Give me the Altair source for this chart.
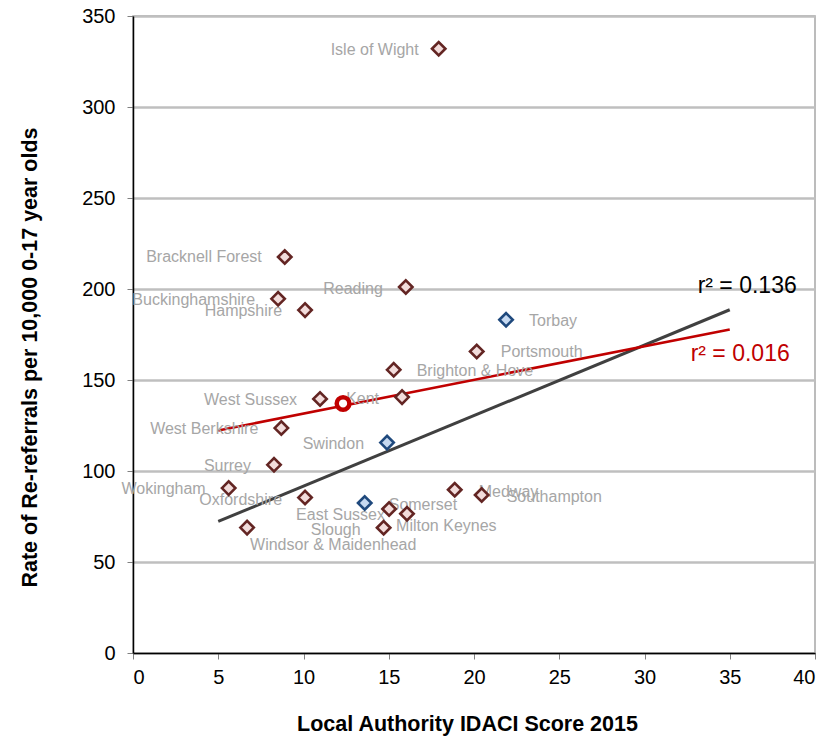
import altair as alt
import pandas as pd

# ---- data ----
names = ["Isle of Wight", "Bracknell Forest", "Buckinghamshire", "Hampshire", "Reading",
         "Torbay", "Portsmouth", "Brighton & Hove", "West Sussex", "Kent",
         "West Berkshire", "Swindon", "Surrey", "Wokingham", "Oxfordshire",
         "Somerset", "Milton Keynes", "East Sussex", "Slough", "Windsor & Maidenhead",
         "Medway", "Southampton"]
idaci = [17.93, 8.90, 8.51, 10.09, 16.00,
         21.88, 20.16, 15.29, 10.97, 15.78,
         8.70, 14.90, 8.27, 5.61, 10.09,
         13.59, 15.02, 16.07, 14.70, 6.69,
         18.87, 20.45]
rate = [332.0, 217.6, 194.6, 188.4, 201.1,
        183.1, 165.7, 155.6, 139.6, 140.6,
        123.6, 115.6, 103.4, 90.6, 85.4,
        82.4, 79.1, 76.5, 68.8, 68.9,
        89.7, 86.8]
region = ["South East"] * 22
for i, n in enumerate(names):
    if n in ("Torbay", "Swindon", "Somerset"):
        region[i] = "South West"

# highlighted average point
avg_x = [12.32]
avg_y = [137.1]

# trend lines
trend_x = [5, 35]
fit_all = [72.3, 188.6]
fit_se = [122.3, 177.8]
r2_labels = ["r² = 0.136", "r² = 0.016"]

x_ticks = list(range(0, 41, 5))
y_ticks = list(range(0, 351, 50))

# label placement (styling only): text alignment and pixel offsets
label_align = ["right", "right", "right", "right", "right",
               "left", "left", "left", "right", "right",
               "right", "right", "right", "right", "right",
               "left", "left", "right", "right", "left",
               "left", "left"]
label_dx = [-20, -23, -23, -23, -23,
            23, 24, 23, -23, -23,
            -23, -23, -23, -23, -23,
            24, 7, -22, -23, 3,
            24, 25]
label_dy = [1, 0, 1, 1, 2,
            1, 1, 1, 1, 2,
            1, 1, 1, 1, 2,
            2, 17, 1, 2, 17,
            2, 2]

FONT = "Liberation Sans"

df = pd.DataFrame({"name": names, "idaci": idaci, "rate": rate, "region": region})
avg_df = pd.DataFrame({"idaci": avg_x, "rate": avg_y})
trend_df = pd.DataFrame({
    "idaci": trend_x * 2,
    "rate": fit_all + fit_se,
    "fit": ["all"] * 2 + ["se"] * 2,
})

xs = alt.Scale(domain=[0, 40], nice=False)
ys = alt.Scale(domain=[0, 350], nice=False)

X = alt.X("idaci:Q", scale=xs,
          axis=alt.Axis(values=x_ticks, title="Local Authority IDACI Score 2015",
                        grid=False, titleX=334, titleY=77, titleAlign="center",
                        titleBaseline="alphabetic", titleAnchor=None))
Y = alt.Y("rate:Q", scale=ys,
          axis=alt.Axis(values=y_ticks, title="Rate of Re-referrals per 10,000 0-17 year olds",
                        grid=True, titleX=-103, titleY=341, titleAngle=270,
                        titleAlign="center", titleBaseline="middle"))

base = alt.Chart(df)

# labels
label_layers = []
for i, n in enumerate(names):
    label_layers.append(
        alt.Chart(df).transform_filter(alt.datum.name == n)
        .mark_text(align=label_align[i], baseline="middle", dx=label_dx[i], dy=label_dy[i],
                   font=FONT, fontSize=16, color="#A6A6A6")
        .encode(x=alt.X("idaci:Q", scale=xs), y=alt.Y("rate:Q", scale=ys), text="name:N")
    )

lines = alt.Chart(trend_df).mark_line(strokeCap="butt").encode(
    x=X, y=Y,
    detail="fit:N",
    color=alt.Color("fit:N", scale=alt.Scale(domain=["all", "se"], range=["#404040", "#C00000"]),
                    legend=None),
    strokeWidth=alt.StrokeWidth("fit:N", scale=alt.Scale(domain=["all", "se"], range=[3, 2.6]),
                                legend=None),
)

points = base.mark_point(shape="diamond", filled=False, size=180, strokeWidth=2.6, opacity=1).encode(
    x=alt.X("idaci:Q", scale=xs), y=alt.Y("rate:Q", scale=ys),
    fill=alt.Fill("region:N", scale=alt.Scale(domain=["South East", "South West"],
                                              range=["#F2DCDB", "#C6D9F1"]), legend=None),
    stroke=alt.Stroke("region:N", scale=alt.Scale(domain=["South East", "South West"],
                                                  range=["#632523", "#1F497D"]), legend=None),
)

avg = alt.Chart(avg_df).mark_point(shape="circle", size=160, fill="white", stroke="#C00000",
                                   strokeWidth=4.5, opacity=1, filled=False).encode(
    x=alt.X("idaci:Q", scale=xs), y=alt.Y("rate:Q", scale=ys))

r2_df = pd.DataFrame({"idaci": [trend_x[1], trend_x[1]], "rate": [fit_all[1], fit_se[1]],
                      "label": r2_labels})
r2_black = alt.Chart(r2_df).transform_filter(alt.datum.label == r2_labels[0]).mark_text(
    align="right", baseline="middle", dx=67, dy=-24, font=FONT, fontSize=23, color="#000000"
).encode(x=alt.X("idaci:Q", scale=xs), y=alt.Y("rate:Q", scale=ys), text="label:N")
r2_red = alt.Chart(r2_df).transform_filter(alt.datum.label == r2_labels[1]).mark_text(
    align="right", baseline="middle", dx=60, dy=25, font=FONT, fontSize=23, color="#C00000"
).encode(x=alt.X("idaci:Q", scale=xs), y=alt.Y("rate:Q", scale=ys), text="label:N")

chart = alt.layer(lines, *label_layers, points, avg, r2_black, r2_red).properties(
    width=682, height=637,
    autosize=alt.AutoSizeParams(type="none"),
    padding={"left": 125, "top": 8, "right": 14, "bottom": 84},
).configure_view(
    stroke="#A6A6A6", strokeWidth=1.5
).configure_axis(
    labelFont=FONT, labelFontSize=20, labelColor="#000000",
    titleFont=FONT, titleFontSize=21.5, titleFontWeight="bold", titleColor="#000000",
    domainColor="#000000", domainWidth=1.5,
    tickColor="#808080", tickSize=6, tickWidth=1,
    gridColor="#BFBFBF", gridWidth=2.5,
).configure_axisX(
    labelPadding=8,
).configure_axisY(
    labelPadding=12,
)

chart.save("out.html", embed_options={"renderer": "svg", "actions": False})
